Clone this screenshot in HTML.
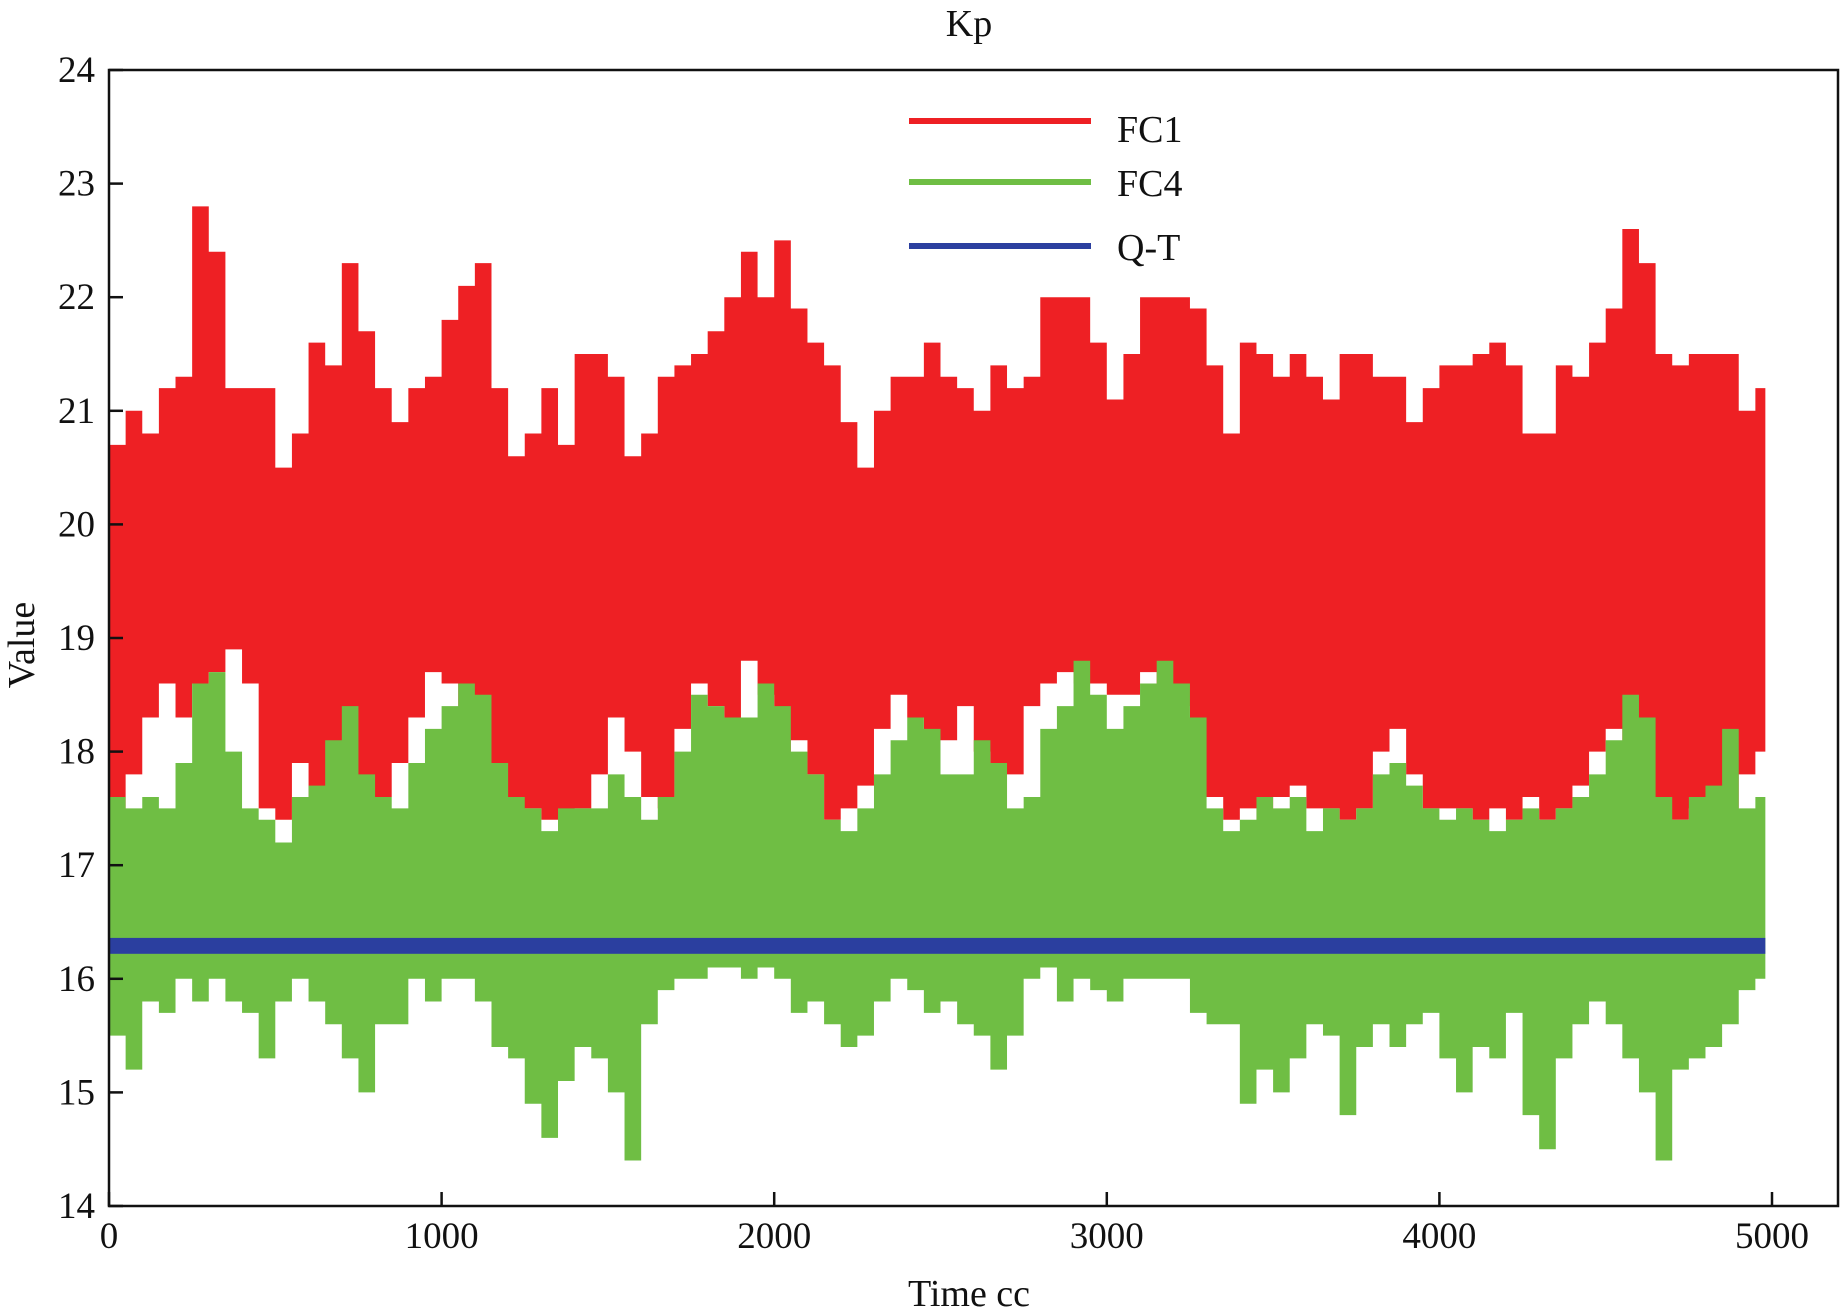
<!DOCTYPE html>
<html><head><meta charset="utf-8"><style>
html,body{margin:0;padding:0;background:#fff}
svg{display:block}
text{font-family:"Liberation Serif",serif;fill:#111}
</style></head><body>
<svg id="chart" width="1840" height="1314" viewBox="0 0 1840 1314">
<g id="marks"></g>
<g id="axes"></g>
<text x="969" y="36" font-size="38" text-anchor="middle">Kp</text>
<text x="969" y="1306" font-size="38" text-anchor="middle">Time cc</text>
<text transform="translate(34,645) rotate(-90)" font-size="38" text-anchor="middle">Value</text>
<g>
<line x1="909" y1="121" x2="1091" y2="121" stroke="#ee2024" stroke-width="6"/>
<text x="1117" y="142" font-size="38">FC1</text>
<line x1="909" y1="182" x2="1091" y2="182" stroke="#6fbe44" stroke-width="6"/>
<text x="1117" y="196" font-size="38">FC4</text>
<line x1="909" y1="246" x2="1091" y2="246" stroke="#2b3f9f" stroke-width="6"/>
<text x="1117" y="260" font-size="38">Q-T</text>
</g>
</svg>
<script>
const fc1Upper=[20.7,21,20.8,21.2,21.3,22.8,22.4,21.2,21.2,21.2,20.5,20.8,21.6,21.4,22.3,21.7,21.2,20.9,21.2,21.3,21.8,22.1,22.3,21.2,20.6,20.8,21.2,20.7,21.5,21.5,21.3,20.6,20.8,21.3,21.4,21.5,21.7,22.0,22.4,22.0,22.5,21.9,21.6,21.4,20.9,20.5,21.0,21.3,21.3,21.6,21.3,21.2,21.0,21.4,21.2,21.3,22,22,22,21.6,21.1,21.5,22,22,22,21.9,21.4,20.8,21.6,21.5,21.3,21.5,21.3,21.1,21.5,21.5,21.3,21.3,20.9,21.2,21.4,21.4,21.5,21.6,21.4,20.8,20.8,21.4,21.3,21.6,21.9,22.6,22.3,21.5,21.4,21.5,21.5,21.5,21.0,21.2,20.7];
const fc1Lower=[17.6,17.3,17.8,18.3,18.6,18.3,18.6,18.7,18.9,18.6,17.5,17.4,17.9,17.6,17.5,17.6,17.5,17.6,17.9,18.3,18.7,18.6,18.3,17.5,17.5,17.4,17.5,17.4,17.4,17.5,17.8,18.3,18.0,17.6,17.5,18.2,18.6,18.4,18.3,18.8,18.5,18.0,18.1,17.8,17.4,17.5,17.7,18.2,18.5,18.3,17.9,18.1,18.4,18.0,17.5,17.8,18.4,18.6,18.7,18.6,18.6,18.5,18.5,18.7,18.6,18.4,17.6,17.6,17.4,17.5,17.4,17.6,17.7,17.5,17.5,17.4,17.5,18.0,18.2,17.8,17.5,17.5,17.5,17.4,17.5,17.4,17.6,17.4,17.5,17.7,18.0,18.2,18.0,17.6,17.4,17.4,17.5,17.6,17.5,17.8,18.0];
const fc4Upper=[17.6,17.5,17.6,17.5,17.9,18.6,18.7,18.0,17.5,17.4,17.2,17.6,17.7,18.1,18.4,17.8,17.6,17.5,17.9,18.2,18.4,18.6,18.5,17.9,17.6,17.5,17.3,17.5,17.5,17.5,17.8,17.6,17.4,17.6,18.0,18.5,18.4,18.3,18.3,18.6,18.4,18.0,17.8,17.4,17.3,17.5,17.8,18.1,18.3,18.2,17.8,17.8,18.1,17.9,17.5,17.6,18.2,18.4,18.8,18.5,18.2,18.4,18.6,18.8,18.6,18.3,17.5,17.3,17.4,17.6,17.5,17.6,17.3,17.5,17.4,17.5,17.8,17.9,17.7,17.5,17.4,17.5,17.4,17.3,17.4,17.5,17.4,17.5,17.6,17.8,18.1,18.5,18.3,17.6,17.4,17.6,17.7,18.2,17.5,17.6,17.3];
const fc4Lower=[15.8,15.5,15.2,15.8,15.7,16.0,15.8,16.0,15.8,15.7,15.3,15.8,16.0,15.8,15.6,15.3,15.0,15.6,15.6,16.0,15.8,16.0,16.0,15.8,15.4,15.3,14.9,14.6,15.1,15.4,15.3,15.0,14.4,15.6,15.9,16.0,16.0,16.1,16.1,16.0,16.1,16.0,15.7,15.8,15.6,15.4,15.5,15.8,16.0,15.9,15.7,15.8,15.6,15.5,15.2,15.5,16.0,16.1,15.8,16.0,15.9,15.8,16.0,16.0,16.0,16.0,15.7,15.6,15.6,14.9,15.2,15.0,15.3,15.6,15.5,14.8,15.4,15.6,15.4,15.6,15.7,15.3,15.0,15.4,15.3,15.7,14.8,14.5,15.3,15.6,15.8,15.6,15.3,15.0,14.4,15.2,15.3,15.4,15.6,15.9,16.0];
const qtBand=[16.22,16.36];
const xTicks=[0,1000,2000,3000,4000,5000];
const yTicks=[14,15,16,17,18,19,20,21,22,23,24];
const tStep=50, tEnd=4980;
const NS='http://www.w3.org/2000/svg';
const L=109,R=1838,T=70,B=1206,X5000=1772;
function xs(t){return L+t*(X5000-L)/5000;}
function ys(v){return T+(24-v)*(B-T)/10;}
function times(n){const a=[];for(let i=0;i<n;i++)a.push(Math.min(i*tStep,tEnd));return a;}
const marks=document.getElementById('marks'), axes=document.getElementById('axes');
function band(up,lo,color,name){
  const ts=times(up.length);let pts=[];
  for(let i=0;i<up.length;i++){pts.push(xs(ts[i])+','+ys(up[i]));if(i<up.length-1)pts.push(xs(ts[i+1])+','+ys(up[i]));}
  for(let i=lo.length-1;i>=0;i--){pts.push(xs(ts[i])+','+ys(lo[i]));if(i>0)pts.push(xs(ts[i-1])+','+ys(lo[i]));}
  const p=document.createElementNS(NS,'polygon');p.setAttribute('points',pts.join(' '));p.setAttribute('fill',color);
  
  
  marks.appendChild(p);
}
band(fc1Upper,fc1Lower,'#ee2024','fc1-series');
band(fc4Upper,fc4Lower,'#6fbe44','fc4-series');
const q=document.createElementNS(NS,'rect');
q.setAttribute('x',xs(0));q.setAttribute('width',xs(tEnd)-xs(0));q.setAttribute('y',ys(qtBand[1]));q.setAttribute('height',ys(qtBand[0])-ys(qtBand[1]));q.setAttribute('fill','#2b3f9f');


marks.appendChild(q);
const fr=document.createElementNS(NS,'rect');
fr.setAttribute('x',L);fr.setAttribute('y',T);fr.setAttribute('width',R-L);fr.setAttribute('height',B-T);fr.setAttribute('fill','none');fr.setAttribute('stroke','#111');fr.setAttribute('stroke-width','2.5');


axes.appendChild(fr);
xTicks.forEach(t=>{
  const l=document.createElementNS(NS,'line');l.setAttribute('x1',xs(t));l.setAttribute('x2',xs(t));l.setAttribute('y1',B);l.setAttribute('y2',B-14);l.setAttribute('stroke','#111');l.setAttribute('stroke-width','2.5');
  
  
  axes.appendChild(l);
  const tx=document.createElementNS(NS,'text');tx.setAttribute('x',xs(t));tx.setAttribute('y',B+42);tx.setAttribute('font-size','37');tx.setAttribute('text-anchor','middle');tx.textContent=t;
  
  
  axes.appendChild(tx);
});
yTicks.forEach(v=>{
  const l=document.createElementNS(NS,'line');l.setAttribute('x1',L);l.setAttribute('x2',L+14);l.setAttribute('y1',ys(v));l.setAttribute('y2',ys(v));l.setAttribute('stroke','#111');l.setAttribute('stroke-width','2.5');
  
  
  axes.appendChild(l);
  const tx=document.createElementNS(NS,'text');tx.setAttribute('x',L-14);tx.setAttribute('y',ys(v)+12);tx.setAttribute('font-size','37');tx.setAttribute('text-anchor','end');tx.textContent=v;
  
  
  axes.appendChild(tx);
});
</script>
</body></html>
